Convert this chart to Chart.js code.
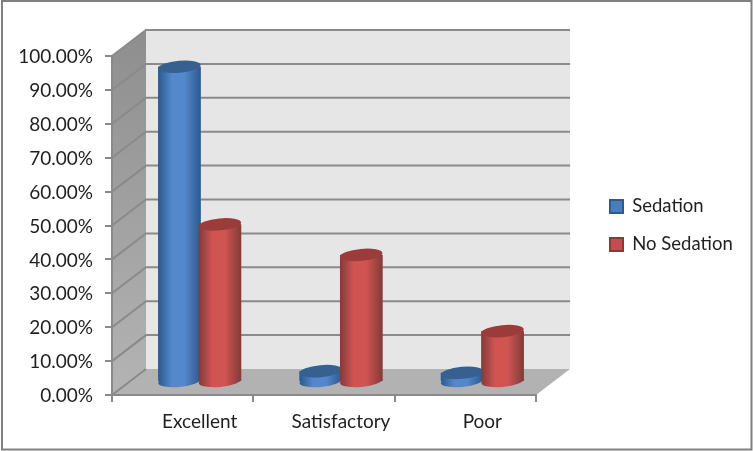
<!DOCTYPE html>
<html><head><meta charset="utf-8">
<style>html,body{margin:0;padding:0;background:#fff}#w{width:753px;height:451px}canvas{display:block}</style>
<script src="https://cdn.jsdelivr.net/npm/chart.js@4"></script></head>
<body><div id="w"><canvas id="c" width="753" height="451"></canvas></div>
<script>
const categories = ["Excellent", "Satisfactory", "Poor"];
const sedation = [93, 3.2, 2.7];
const noSedation = [46.5, 37.5, 15];
const seriesNames = ["Sedation", "No Sedation"];

const DX = 34, DY = -26;
const FONT = "Lato";
const GRID = "#8a8a8a";
const STYLES = [
  {edge:"#2c5a8c", mid:"#5487cb", top:"#35608f", flat:"#4a7ebb", line:"#2f5a8d"},
  {edge:"#823b39", mid:"#cf5452", top:"#9c3c3a", flat:"#c0504d", line:"#8c3836"}
];

function ell(ctx, x, y, rx, ry){
  ctx.beginPath();
  ctx.ellipse(x, y, rx, ry, -0.09, 0, Math.PI*2);
  ctx.fill();
}
function poly(ctx, pts, fill){
  ctx.beginPath();
  pts.forEach((p,i)=> i ? ctx.lineTo(p[0],p[1]) : ctx.moveTo(p[0],p[1]));
  ctx.closePath();
  ctx.fillStyle = fill; ctx.fill();
}

const scene = {
  id: "scene",
  beforeLayout(chart){
    const l = chart.legend;
    if (l && !l._wrapped){
      const f = l.fit;
      l.fit = function(){ f.call(this); this.width = 217; };
      l._wrapped = true;
    }
  },
  afterLayout(chart){
    const l = chart.legend;
    const pad = l.options.labels.padding;
    l.left = 610 - pad; l.top = 0; l.bottom = 451;
  },
  beforeDraw(chart){
    const ctx = chart.ctx, y = chart.scales.y, a = chart.chartArea;
    ctx.save();
    ctx.fillStyle = "#fff"; ctx.fillRect(0,0,753,451);
    ctx.strokeStyle = "#808080"; ctx.lineWidth = 2;
    ctx.strokeRect(2,1,749.5,448.5);
    const L=a.left,R=a.right,T=a.top,B=a.bottom;
    poly(ctx,[[L+DX,T+DY],[R+DX,T+DY],[R+DX,B+DY],[L+DX,B+DY]],"#e6e6e6");
    const g = ctx.createLinearGradient(0,T+DY,0,B);
    g.addColorStop(0,"#8e8e8e"); g.addColorStop(1,"#b4b4b4");
    poly(ctx,[[L,T],[L+DX,T+DY],[L+DX,B+DY],[L,B]],g);
    poly(ctx,[[L,B],[L+DX,B+DY],[R+DX,B+DY],[R,B]],"#b2b2b2");
    ctx.strokeStyle = GRID; ctx.lineWidth = 2;
    y.ticks.forEach(t=>{
      const p = y.getPixelForValue(t.value);
      ctx.beginPath();
      ctx.moveTo(L,p); ctx.lineTo(L+DX,p+DY);
      if (t.value>0) ctx.lineTo(R+DX,p+DY);
      ctx.stroke();
    });
    ctx.restore();
  },
  beforeDatasetsDraw(chart){
    chart.ctx.save();
    chart.ctx.translate(DX/2, DY/2);
  },
  afterDatasetsDraw(chart){
    const ctx = chart.ctx;
    [0,1].forEach(index=>{
      const s = STYLES[index];
      chart.getDatasetMeta(index).data.forEach(el=>{
        const w = el.width, x0 = el.x - w/2, rx = w/2, ry = 6;
        const g = ctx.createLinearGradient(x0,0,x0+w,0);
        g.addColorStop(0,s.edge); g.addColorStop(0.32,s.mid);
        g.addColorStop(0.62,s.mid); g.addColorStop(1,s.edge);
        ctx.fillStyle = g;
        ell(ctx, el.x, el.base, rx, ry);
        ctx.fillRect(x0, el.y, w, el.base - el.y);
        ctx.fillStyle = s.top;
        ell(ctx, el.x, el.y, rx, ry);
      });
    });
    ctx.restore();
  }
};

new Chart(document.getElementById("c"), {
  type: "bar",
  data: {
    labels: categories,
    datasets: [
      {label: seriesNames[0], data: sedation, backgroundColor: STYLES[0].flat, borderColor: STYLES[0].line},
      {label: seriesNames[1], data: noSedation, backgroundColor: STYLES[1].flat, borderColor: STYLES[1].line}
    ]
  },
  plugins: [scene],
  options: {
    responsive: false,
    animation: false,
    events: [],
    categoryPercentage: 0.573,
    barPercentage: 1.05,
    layout: {padding: {left: 0, right: 0, top: 56, bottom: 0}},
    plugins: {
      title: {display: false},
      tooltip: {enabled: false},
      legend: {
        position: "right",
        labels: {
          font: {family: FONT, size: 18.5},
          color: "#1f1f1f",
          boxWidth: 13, boxHeight: 13,
          padding: 19.5,
          generateLabels(chart){
            return Chart.defaults.plugins.legend.labels.generateLabels(chart).map(i=>{
              i.lineWidth = 2; return i;
            });
          }
        }
      }
    },
    scales: {
      x: {
        afterFit(s){ s.height = 56; },
        grid: {offset: true, drawOnChartArea: false, color: GRID, lineWidth: 2, tickLength: 7},
        border: {color: GRID, width: 2},
        ticks: {font: {family: FONT, size: 19}, color: "#1f1f1f", padding: 8, labelOffset: DX/2, maxRotation: 0}
      },
      y: {
        min: 0, max: 100,
        afterFit(s){ s.width = 112; },
        grid: {drawOnChartArea: false, color: GRID, lineWidth: 2, tickLength: 7},
        border: {color: GRID, width: 2},
        ticks: {stepSize: 10, font: {family: FONT, size: 19}, color: "#1f1f1f", padding: 12, labelOffset: 1,
          callback: v => v.toFixed(2) + "%"}
      }
    }
  }
});
</script></body></html>
